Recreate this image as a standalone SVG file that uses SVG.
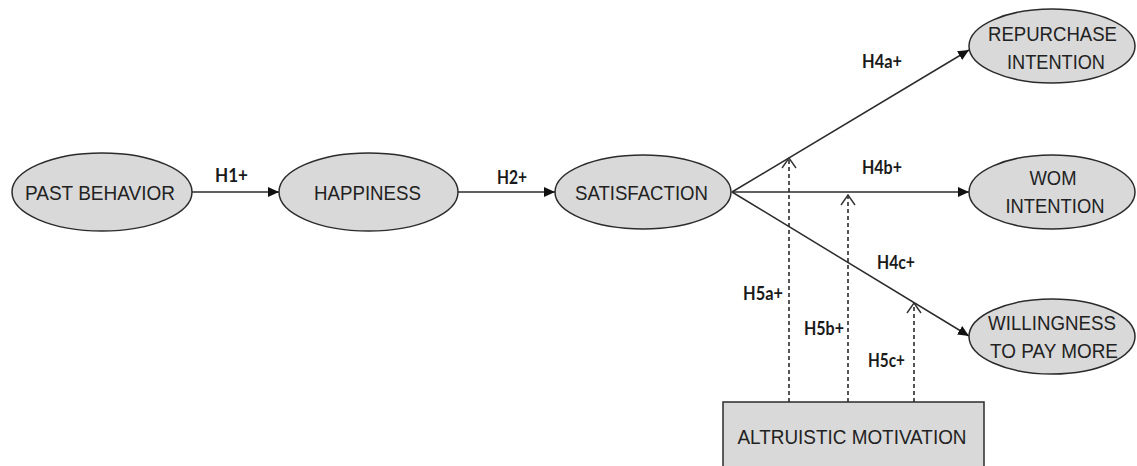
<svg xmlns="http://www.w3.org/2000/svg" width="1137" height="466" viewBox="0 0 1137 466">
<style>
.node{fill:#d9d9d9;stroke:#2b2b2b;stroke-width:1.5}
.nt{font-family:"Liberation Sans",Arial,sans-serif;font-size:21px;fill:#222;text-anchor:middle}
.lbl{font-family:Lato,"Liberation Sans",sans-serif;font-size:18px;font-weight:bold;fill:#1a1a1a}
.edge{stroke:#2b2b2b;stroke-width:1.5;fill:none}
.dash{stroke:#2b2b2b;stroke-width:1.6;fill:none;stroke-dasharray:4 3}
</style>
<defs>
<marker id="arr" markerWidth="12" markerHeight="10" refX="11" refY="5" orient="auto" markerUnits="userSpaceOnUse"><path d="M0,0 L11,5 L0,10 z" fill="#111"/></marker>
<marker id="open" markerWidth="13" markerHeight="16" refX="11" refY="8" orient="auto" markerUnits="userSpaceOnUse"><path d="M1,1 L11,8 L1,15" fill="none" stroke="#333" stroke-width="1.4" stroke-dasharray="none"/></marker>
</defs>
<rect width="1137" height="466" fill="#fff"/>
<g id="connectors">
<line class="edge" x1="192" y1="192" x2="279" y2="192" marker-end="url(#arr)"/>
<line class="edge" x1="458" y1="192" x2="555" y2="192" marker-end="url(#arr)"/>
<line class="edge" x1="732" y1="192" x2="969" y2="50" marker-end="url(#arr)"/>
<line class="edge" x1="732" y1="192" x2="969" y2="192" marker-end="url(#arr)"/>
<line class="edge" x1="732" y1="192" x2="969" y2="336" marker-end="url(#arr)"/>
<line class="dash" x1="789" y1="402" x2="789" y2="158" marker-end="url(#open)"/>
<line class="dash" x1="848" y1="402" x2="848" y2="195" marker-end="url(#open)"/>
<line class="dash" x1="914" y1="402" x2="914" y2="303" marker-end="url(#open)"/>
<text class="lbl" x="215" y="182" textLength="33" lengthAdjust="spacingAndGlyphs">H1+</text>
<text class="lbl" x="497" y="184" textLength="30" lengthAdjust="spacingAndGlyphs">H2+</text>
<text class="lbl" x="862" y="68" textLength="40" lengthAdjust="spacingAndGlyphs">H4a+</text>
<text class="lbl" x="862" y="174" textLength="40" lengthAdjust="spacingAndGlyphs">H4b+</text>
<text class="lbl" x="877" y="269" textLength="38" lengthAdjust="spacingAndGlyphs">H4c+</text>
<text class="lbl" x="743" y="300" textLength="40" lengthAdjust="spacingAndGlyphs">H5a+</text>
<text class="lbl" x="804" y="335" textLength="40" lengthAdjust="spacingAndGlyphs">H5b+</text>
<text class="lbl" x="868" y="367" textLength="37" lengthAdjust="spacingAndGlyphs">H5c+</text>
</g>
<g id="past-behavior">
<ellipse class="node" cx="102" cy="192" rx="90" ry="39"/>
<text class="nt" x="100" y="200" textLength="150" lengthAdjust="spacingAndGlyphs">PAST BEHAVIOR</text>
</g>
<g id="happiness">
<ellipse class="node" cx="368.5" cy="192" rx="89.5" ry="39"/>
<text class="nt" x="367.5" y="200" textLength="107" lengthAdjust="spacingAndGlyphs">HAPPINESS</text>
</g>
<g id="satisfaction">
<ellipse class="node" cx="643" cy="192" rx="88" ry="37"/>
<text class="nt" x="641.5" y="200" textLength="133" lengthAdjust="spacingAndGlyphs">SATISFACTION</text>
</g>
<g id="repurchase-intention">
<ellipse class="node" cx="1052" cy="46" rx="83" ry="37"/>
<text class="nt" x="1052.5" y="41" textLength="129" lengthAdjust="spacingAndGlyphs">REPURCHASE</text>
<text class="nt" x="1056" y="69" textLength="98" lengthAdjust="spacingAndGlyphs">INTENTION</text>
</g>
<g id="wom-intention">
<ellipse class="node" cx="1052" cy="192" rx="83" ry="37"/>
<text class="nt" x="1053" y="185" textLength="47" lengthAdjust="spacingAndGlyphs">WOM</text>
<text class="nt" x="1055" y="213" textLength="99" lengthAdjust="spacingAndGlyphs">INTENTION</text>
</g>
<g id="willingness-to-pay-more">
<ellipse class="node" cx="1052" cy="336.5" rx="83" ry="37.5"/>
<text class="nt" x="1052" y="330" textLength="128" lengthAdjust="spacingAndGlyphs">WILLINGNESS</text>
<text class="nt" x="1054" y="358" textLength="128" lengthAdjust="spacingAndGlyphs">TO PAY MORE</text>
</g>
<g id="altruistic-motivation">
<rect class="node" x="723" y="402" width="261" height="80"/>
<text class="nt" x="852" y="444" textLength="229" lengthAdjust="spacingAndGlyphs">ALTRUISTIC MOTIVATION</text>
</g>
</svg>
